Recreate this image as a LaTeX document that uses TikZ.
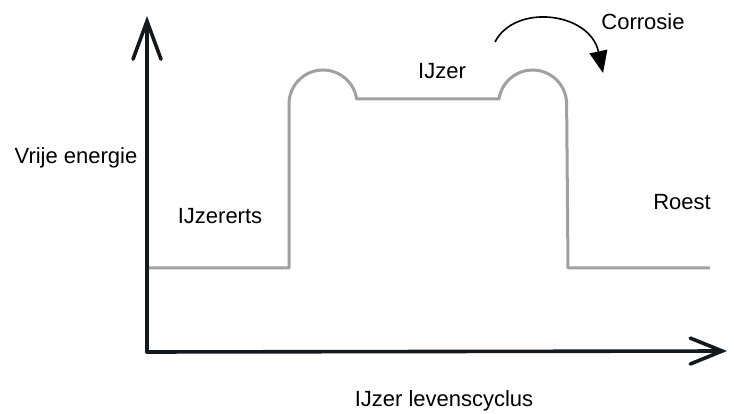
\documentclass[tikz,border=0pt]{standalone}
\usepackage{fontspec}
\setmainfont{Liberation Sans}
\usetikzlibrary{arrows.meta}
\definecolor{curvegray}{RGB}{160,160,160}
\definecolor{axisblack}{RGB}{20,25,30}
\begin{document}
\begin{tikzpicture}[x=1pt,y=-1pt,
  lbl/.style={font=\fontsize{22}{24}\selectfont, inner sep=0pt, text=black},
  axisline/.style={draw=axisblack, line width=3.6pt, line cap=round},
  vtip/.style={-{Straight Barb[length=38pt,width=28pt,line width=3.6pt,line cap=round]}},
  htip/.style={-{Straight Barb[length=32pt,width=26pt,line width=3.6pt,line cap=round]}},
  energy/.style={draw=curvegray, line width=3pt, line join=round},
  corr/.style={draw=black, line width=1.6pt, -{Triangle[length=22pt,width=18pt]}}]
\useasboundingbox (0,0) rectangle (734,414);
% axes
\coordinate (O) at (147,352);
\coordinate (ytip) at (147,16);
\coordinate (xtip) at (727,351);
\draw[axisline,vtip] (O) -- (ytip);
\draw[axisline,htip] (O) -- (xtip);
% energy profile
\coordinate (s) at (149,268);
\coordinate (a) at (289,268);
\coordinate (b) at (289,104);
\coordinate (c) at (499,99);
\coordinate (e) at (568,268);
\coordinate (f) at (710,268);
\draw[energy] (s) -- (a) -- (b) arc[start angle=180,end angle=351.5,radius=34] -- (c)
  arc[start angle=188.5,end angle=360,radius=34] -- (e) -- (f);
% corrosion arrow
\coordinate (c1) at (495,42);
\coordinate (c2) at (603,73);
\draw[corr] (c1) .. controls (515,3) and (590,12) .. (c2);
% labels
\node[lbl] (corrosie) at (643,22) {Corrosie};
\node[lbl] (ijzer) at (442,71) {IJzer};
\node[lbl] (vrije) at (76,158) {Vrije energie};
\node[lbl] (erts) at (220,216) {IJzererts};
\node[lbl] (roest) at (682,202) {Roest};
\node[lbl] (cyclus) at (444,401) {IJzer levenscyclus};
\end{tikzpicture}
\end{document}
